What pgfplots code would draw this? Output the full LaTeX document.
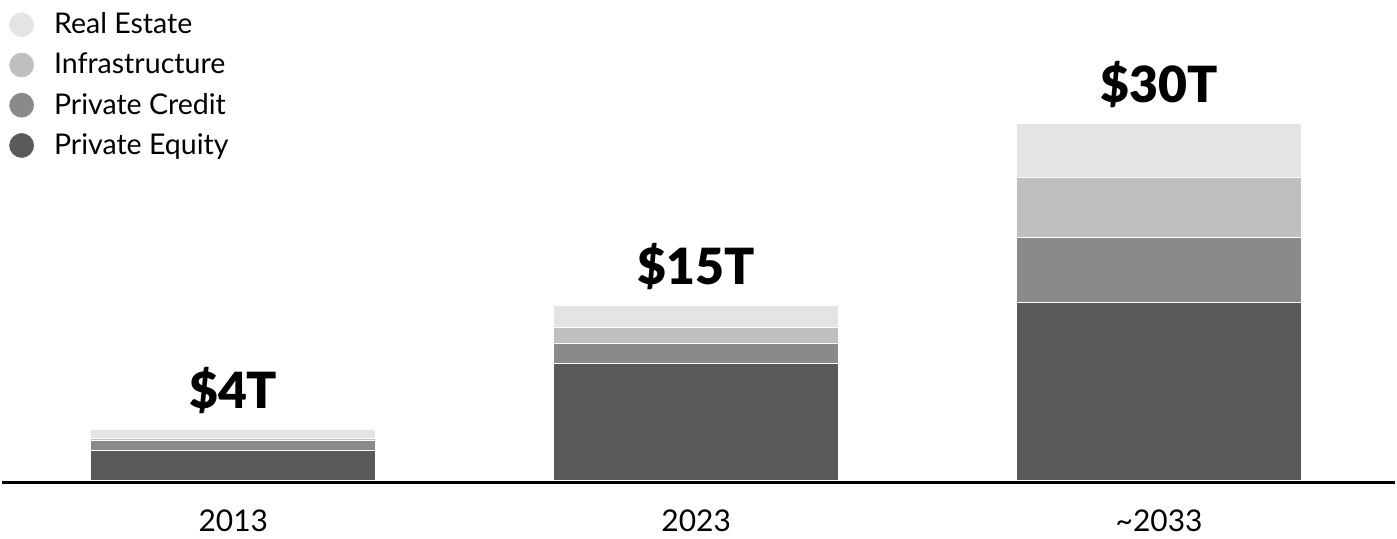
\documentclass[border=0pt]{standalone}
\usepackage{fontspec}
\setmainfont{Lato}
\newfontfamily\heavy{Lato Black}
\usepackage{pgfplots}
\pgfplotsset{compat=1.18}

\definecolor{reC}{HTML}{E4E4E4}
\definecolor{infC}{HTML}{BFBFBF}
\definecolor{pcC}{HTML}{8A8A8A}
\definecolor{peC}{HTML}{5A5A5A}

\begin{document}
\begin{tikzpicture}
\begin{axis}[
    scale only axis,
    width=698.5pt, height=240.75pt,
    ybar stacked,
    stacked ignores zero=false,
    bar width=0.616,
    xmin=-0.5, xmax=2.51,
    ymin=0, ymax=40.4,
    axis x line=bottom,
    axis y line=none,
    axis line style={line width=1.8pt, black, -, yshift=-1.2pt},
    xtick={0,1,2},
    xticklabels={2013,2023,{\char`\~2033}},
    xtick style={draw=none},
    xticklabel style={font=\fontsize{15pt}{18pt}\selectfont, yshift=-9pt},
    ytick=\empty,
    clip=false,
    legend style={at={(0,1)}, anchor=north west, xshift=3pt, yshift=-4.2pt,
        draw=none, fill=none, font=\fontsize{14.3pt}{17pt}\selectfont,
        row sep=4.2pt, inner sep=0pt},
    legend cell align=left,
    reverse legend,
    legend image code/.code={\fill (0.25em,0pt) circle (6.5pt);},
    every axis plot/.append style={draw=white, line width=0.5pt},
]
\path (rel axis cs:0,0) rectangle (rel axis cs:1,1);
\addplot[fill=peC] coordinates {(0,2.53) (1,9.83) (2,14.95)};
\addlegendentry{\hspace{7.5pt}Private Equity}
\addplot[fill=pcC] coordinates {(0,0.78) (1,1.68) (2,5.50)};
\addlegendentry{\hspace{7.5pt}Private Credit}
\addplot[fill=infC] coordinates {(0,0.23) (1,1.31) (2,5.01)};
\addlegendentry{\hspace{7.5pt}Infrastructure}
\addplot[fill=reC] coordinates {(0,0.70) (1,1.90) (2,4.53)};
\addlegendentry{\hspace{7.5pt}Real Estate}
% totals above the bars
\addplot[draw=none, fill=none, forget plot,
    nodes near coords,
    point meta=explicit symbolic,
    every node near coord/.append style={font=\heavy\fontsize{25pt}{30pt}\selectfont,
        text=black, anchor=base, yshift=10.5pt}]
    coordinates {(0,0) [\$4T] (1,0) [\$15T] (2,0) [\$30T]};
\end{axis}
\end{tikzpicture}
\end{document}
